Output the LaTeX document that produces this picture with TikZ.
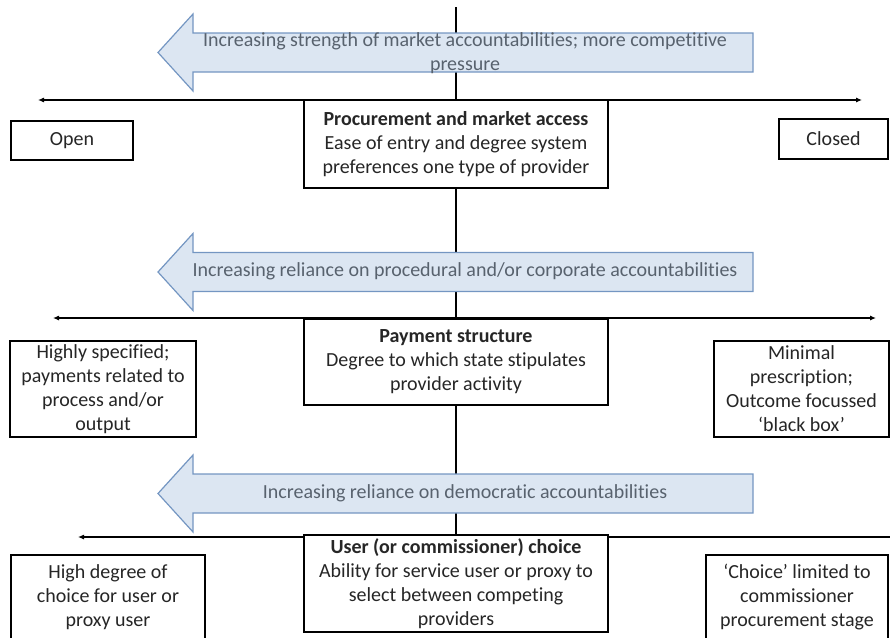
\documentclass[tikz,border=0pt]{standalone}
\usepackage{fontspec}
\setmainfont{Carlito}[RawFeature={-liga;-clig;-calt;-dlig}]
\usetikzlibrary{arrows.meta,backgrounds}
\definecolor{arrowfill}{HTML}{DCE6F2}
\definecolor{arrowedge}{HTML}{7496C2}
\definecolor{arrowtext}{HTML}{58626E}
\definecolor{boxtext}{HTML}{262626}

% left-pointing block arrow: tip x, centre y
\newcommand\leftblock[2]{%
  \draw[bigarrow] (#1,#2) -- (#1+35,#2-38.5) -- (#1+35,#2-19.5)
    -- (753,#2-19.5) -- (753,#2+19.5) -- (#1+35,#2+19.5)
    -- (#1+35,#2+38.5) -- cycle;}

\begin{document}
\begin{tikzpicture}[x=1pt,y=-1pt,
  every node/.style={font=\fontsize{20}{24}\selectfont},
  box/.style={draw=black, line width=1.1pt, fill=white, align=center,
    inner sep=0pt, text=boxtext},
  axis/.style={line width=1.1pt,
    {Latex[length=6pt,width=5pt]}-{Latex[length=6pt,width=5pt]}},
  spine/.style={line width=1.1pt},
  bigarrow/.style={draw=arrowedge, fill=arrowfill, line width=1.2pt,
    line join=miter},
  arrowlabel/.style={text=arrowtext, align=center, inner sep=0pt}
]
\useasboundingbox (0,0) rectangle (890,637);
\clip (0,0) rectangle (890,637);

% central column of boxes
\node[box, minimum width=304, minimum height=88] (proc) at (456,144)
  {\textbf{Procurement and market access}\\
   Ease of entry and degree system\\
   preferences one type of provider};
\node[box, minimum width=304, minimum height=86] (pay) at (456,362)
  {\textbf{Payment structure}\\
   Degree to which state stipulates\\
   provider activity};
\node[box, minimum width=304, minimum height=97] (user) at (456,583.5)
  {\textbf{User (or commissioner) choice}\\
   Ability for service user or proxy to\\
   select between competing\\
   providers};

\begin{scope}[on background layer]
  % vertical spine through the column
  \coordinate (spinetop) at (456,7);
  \draw[spine] (spinetop) -- (proc.north);
  \draw[spine] (proc.south) -- (pay.north);
  \draw[spine] (pay.south) -- (user.north);

  % horizontal scales
  \coordinate (a1l) at (38,100);  \coordinate (a1r) at (862,100);
  \coordinate (a2l) at (53,318);  \coordinate (a2r) at (876,318);
  \coordinate (a3l) at (78,537);  \coordinate (a3r) at (905,537);
  \draw[axis] (a1l) -- (a1r);
  \draw[axis] (a2l) -- (a2r);
  \draw[axis] (a3l) -- (a3r);
\end{scope}

% block arrows with their labels
\leftblock{158}{52.5}
\node[arrowlabel] (lab1) at (465,53)
  {Increasing strength of market accountabilities; more competitive\\pressure};
\leftblock{158}{272}
\node[arrowlabel] (lab2) at (465,271)
  {Increasing reliance on procedural and/or corporate accountabilities};
\leftblock{158}{493.5}
\node[arrowlabel] (lab3) at (465,493)
  {Increasing reliance on democratic accountabilities};

% end-point boxes
\node[box, minimum width=122, minimum height=39] (open) at (72,140.5) {Open};
\node[box, minimum width=109, minimum height=40] (closed) at (833.5,139) {Closed};
\node[box, minimum width=186, minimum height=96] (spec) at (103,389)
  {Highly specified;\\payments related to\\process and/or\\output};
\node[box, minimum width=175, minimum height=96] (minimal) at (801.5,389)
  {Minimal\\prescription;\\Outcome focussed\\‘black box’};
\node[box, minimum width=194, minimum height=84] (high) at (108,597)
  {High degree of\\choice for user or\\proxy user};
\node[box, minimum width=182, minimum height=84] (limited) at (797,597)
  {‘Choice’ limited to\\commissioner\\procurement stage};
\end{tikzpicture}
\end{document}
